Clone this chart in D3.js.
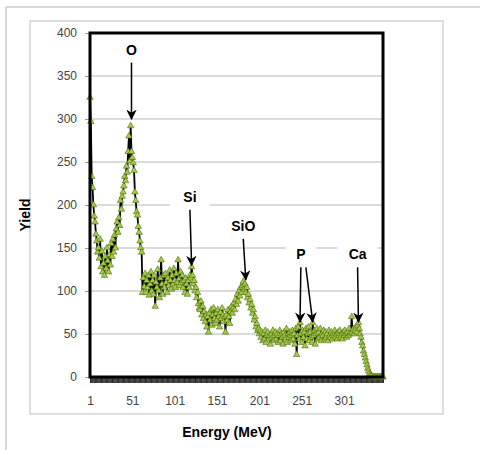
<!DOCTYPE html>
<html>
<head>
<meta charset="utf-8">
<script src="https://d3js.org/d3.v7.min.js"></script>
<style>
  body { margin: 0; background: #fff; }
  text { font-family: "Liberation Sans", Arial, sans-serif; }
</style>
</head>
<body>
<svg width="480" height="450"></svg>
<script>
// yield per energy channel (channel 1..347)
var yieldValues = [
  325, 297, 233, 220, 200, 187, 180, 166, 158, 145,
  150, 138, 160, 128, 146, 122, 132, 118, 140, 126,
  150, 135, 122, 142, 130, 155, 140, 160, 145, 165,
  150, 172, 180, 168, 185, 176, 205, 195, 210, 215,
  222, 233, 228, 245, 238, 262, 280, 251, 292, 262,
  255, 249, 240, 215, 205, 192, 188, 175, 168, 158,
  150, 145, 98, 115, 105, 120, 98, 112, 104, 118,
  95, 108, 122, 100, 112, 96, 118, 82, 110, 104,
  125, 100, 92, 115, 136, 108, 96, 118, 104, 120,
  110, 98, 115, 106, 124, 112, 102, 118, 108, 126,
  112, 104, 120, 110, 136, 114, 106, 122, 110, 118,
  104, 112, 98, 115, 108, 96, 112, 104, 118, 115,
  128, 118, 108, 112, 100, 104, 92, 98, 85, 80,
  78, 88, 72, 82, 68, 76, 64, 72, 58, 70,
  52, 74, 66, 78, 60, 72, 80, 68, 62, 74,
  66, 78, 70, 58, 75, 68, 80, 72, 64, 70,
  52, 72, 66, 78, 70, 62, 76, 82, 74, 80,
  86, 78, 90, 84, 96, 88, 100, 94, 104, 98,
  106, 111, 102, 108, 98, 104, 92, 96, 86, 90,
  80, 84, 74, 78, 66, 70, 58, 62, 54, 56,
  50, 54, 46, 52, 42, 50, 44, 54, 40, 48,
  52, 44, 48, 38, 50, 46, 54, 42, 48, 52,
  44, 50, 40, 48, 54, 42, 50, 46, 38, 52,
  48, 44, 56, 40, 50, 46, 52, 42, 48, 54,
  44, 50, 38, 56, 26, 48, 58, 44, 63, 50,
  40, 54, 46, 52, 36, 56, 44, 50, 58, 42,
  52, 46, 40, 63, 48, 54, 38, 50, 56, 44,
  52, 46, 56, 42, 50, 48, 54, 44, 52, 46,
  50, 42, 54, 48, 46, 52, 44, 50, 48, 54,
  46, 50, 44, 52, 48, 54, 46, 50, 44, 52,
  48, 54, 50, 46, 52, 48, 56, 50, 52, 70,
  52, 56, 50, 54, 58, 52, 60, 63, 56, 50,
  46, 40, 36, 30, 26, 22, 18, 14, 10, 7,
  4, 2, 1, 1, 0, 0, 0, 0, 0, 0,
  0, 0, 0, 0, 0, 0, 0
];
var channels = yieldValues.map(function(d, i) { return i + 1; });
var xTickLabels = [1, 51, 101, 151, 201, 251, 301];
var yTicks = [0, 50, 100, 150, 200, 250, 300, 350, 400];

// element labels: name, channel the arrow points to, arrow tip yield, label yield
var peakNames  = ['O', 'Si', 'SiO', 'P', 'P', 'Ca'];
var peakAt     = [50, 121, 185, 249, 264, 318];
var peakTip    = [300, 130, 113, 64, 64, 64];
var labelAt    = [50, 119, 182, 250, 250, 317];
var labelYield = [383, 212, 178, 145, 145, 145];

var svg = d3.select('svg');

// outer frame lines
svg.append('line').attr('x1', 6).attr('y1', 7).attr('x2', 480).attr('y2', 7)
  .attr('stroke', '#cccccc').attr('stroke-width', 1.5);
svg.append('line').attr('x1', 6).attr('y1', 7).attr('x2', 6).attr('y2', 450)
  .attr('stroke', '#cccccc').attr('stroke-width', 1.5);
// chart box
svg.append('rect').attr('x', 30).attr('y', 21).attr('width', 413).attr('height', 393)
  .attr('fill', 'none').attr('stroke', '#d4d4d4').attr('stroke-width', 1.5);

var plotLeft = 90, plotRight = 383, plotTop = 33, plotBottom = 377;
var xs = d3.scalePoint().domain(channels).range([plotLeft, plotRight]);
var ys = d3.scaleLinear().domain([0, 400]).range([plotBottom, plotTop]);

// gridlines
svg.append('g').selectAll('line').data(yTicks.slice(1, -1)).enter().append('line')
  .attr('x1', plotLeft).attr('x2', plotRight)
  .attr('y1', function(d) { return ys(d); }).attr('y2', function(d) { return ys(d); })
  .attr('stroke', '#cfcfcf').attr('stroke-width', 1.5);

// y axis
var yAxis = svg.append('g').attr('transform', 'translate(' + plotLeft + ',0)')
  .call(d3.axisLeft(ys).tickValues(yTicks).tickSize(5).tickPadding(8));
yAxis.select('.domain').remove();
yAxis.selectAll('line').attr('stroke', '#999');
yAxis.selectAll('text').attr('fill', '#444').style('font-size', '12px')
  .style('font-family', '"Liberation Sans Narrow", "Liberation Sans", Arial, sans-serif');

// x axis: a tick at every channel, a label every 50
var xAxis = svg.append('g').attr('transform', 'translate(0,' + plotBottom + ')')
  .call(d3.axisBottom(xs).tickSize(6).tickPadding(13)
    .tickFormat(function(d) { return xTickLabels.indexOf(d) >= 0 ? d : ''; }));
xAxis.select('.domain').remove();
xAxis.selectAll('line').attr('stroke', '#000').attr('stroke-width', 0.8);
xAxis.selectAll('text').attr('fill', '#444').style('font-size', '12px')
  .style('font-family', '"Liberation Sans Narrow", "Liberation Sans", Arial, sans-serif');

// label backgrounds (they cut the gridlines)
var labels = svg.append('g');
peakNames.forEach(function(n, k) {
  if (k === 4) return;
  var w = n.length * 10 + 20;
  labels.append('rect')
    .attr('x', xs(labelAt[k]) - w / 2).attr('y', ys(labelYield[k]) - 10)
    .attr('width', w).attr('height', 24).attr('fill', '#fff');
});

// data line and markers
var line = d3.line()
  .x(function(d, i) { return xs(channels[i]); })
  .y(function(d) { return ys(d); });
svg.append('path').datum(yieldValues).attr('d', line)
  .attr('fill', 'none').attr('stroke', '#000').attr('stroke-width', 1.8);

svg.append('g').selectAll('path').data(yieldValues).enter().append('path')
  .attr('d', d3.symbol().type(d3.symbolTriangle).size(18))
  .attr('transform', function(d, i) { return 'translate(' + xs(channels[i]) + ',' + ys(d) + ')'; })
  .attr('fill', '#a6c94a').attr('stroke', '#4d6b14').attr('stroke-width', 0.6);

// plot border
svg.append('rect').attr('x', plotLeft).attr('y', plotTop)
  .attr('width', plotRight - plotLeft).attr('height', plotBottom - plotTop)
  .attr('fill', 'none').attr('stroke', '#000').attr('stroke-width', 3);

// arrows
svg.append('defs').append('marker')
  .attr('id', 'head').attr('viewBox', '0 0 10 10').attr('refX', 9).attr('refY', 5)
  .attr('markerWidth', 7).attr('markerHeight', 7).attr('orient', 'auto')
  .append('path').attr('d', 'M0,0 L10,5 L0,10 L3,5 z').attr('fill', '#000');

peakNames.forEach(function(n, k) {
  var lx = xs(labelAt[k]) + (k === 4 ? 5 : 0);
  svg.append('line')
    .attr('x1', lx).attr('y1', ys(labelYield[k]) + 15)
    .attr('x2', xs(peakAt[k])).attr('y2', ys(peakTip[k]))
    .attr('stroke', '#000').attr('stroke-width', 1.5)
    .attr('marker-end', 'url(#head)');
  if (k === 4) return;
  svg.append('text').attr('x', xs(labelAt[k])).attr('y', ys(labelYield[k]) + 7)
    .attr('text-anchor', 'middle').style('font-weight', 'bold').style('font-size', '14px')
    .text(n);
});

// axis titles
svg.append('text').attr('transform', 'translate(30,215) rotate(-90)')
  .attr('text-anchor', 'middle').style('font-weight', 'bold').style('font-size', '14px')
  .text('Yield');
svg.append('text').attr('x', 227).attr('y', 437)
  .attr('text-anchor', 'middle').style('font-weight', 'bold').style('font-size', '14px')
  .text('Energy (MeV)');
</script>
</body>
</html>
